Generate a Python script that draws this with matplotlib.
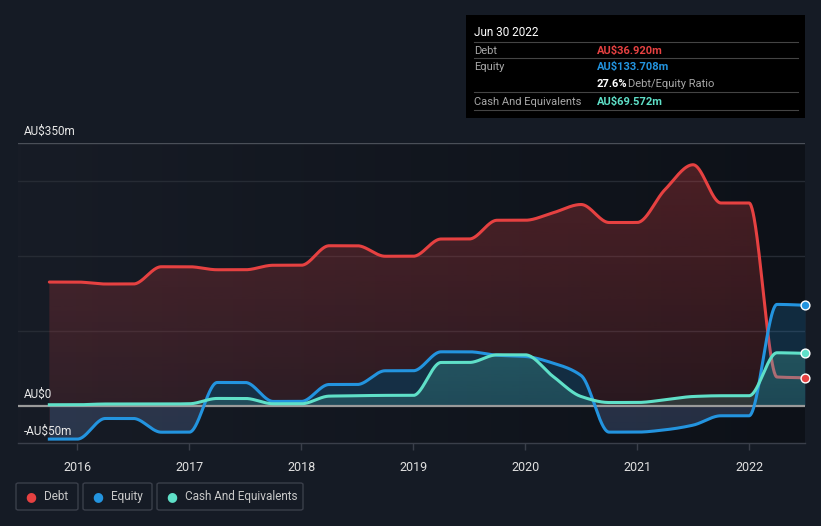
import numpy as np
import matplotlib
matplotlib.use("Agg")
import matplotlib.pyplot as plt
from matplotlib.patches import FancyBboxPatch, Rectangle
from matplotlib.colors import LinearSegmentedColormap, to_rgb

plt.rcParams['font.family'] = ['Roboto', 'DejaVu Sans']

# quarterly data, Sep 2015 .. Jun 2022 (AU$ m)
quarters = [2015.75 + 0.25 * i for i in range(28)]
debt = [164.6, 164.6, 162, 162, 185, 185, 181, 181, 187, 187, 213, 213, 199, 199,
        222, 222, 247, 247, 257, 268, 244, 244, 288, 321, 270, 270, 38, 36.92]
equity = [-44.8, -44.8, -17.3, -17.3, -35.6, -35.6, 30.7, 30.7, 5.4, 5.4, 28, 28, 46.3, 46.3,
          71.6, 71.6, 67, 65.4, 56.5, 40, -35.5, -35.5, -32.4, -26.2, -13.7, -13.7, 134.8, 133.708]
cash = [1, 1, 2, 2, 2, 2.3, 9.4, 9.4, 2.3, 2.3, 12.5, 13, 13.5, 13.4,
        57.4, 57.4, 67.6, 67.6, 38.7, 12, 4, 4, 7.6, 12, 13, 13, 70.3, 69.572]
years = [2016, 2017, 2018, 2019, 2020, 2021, 2022]

DEBT_C = "#e64141"
EQ_C = "#2394df"
CASH_C = "#5fe0c8"
BG = "#151b25"


def pchip(x, y, xs):
    x = np.asarray(x, float); y = np.asarray(y, float)
    h = np.diff(x); d = np.diff(y) / h
    m = np.zeros_like(y)
    for k in range(1, len(y) - 1):
        if d[k - 1] * d[k] > 0:
            w1 = 2 * h[k] + h[k - 1]; w2 = h[k] + 2 * h[k - 1]
            m[k] = (w1 + w2) / (w1 / d[k - 1] + w2 / d[k])
    m[0] = d[0]; m[-1] = d[-1]
    idx = np.clip(np.searchsorted(x, xs) - 1, 0, len(x) - 2)
    t = (xs - x[idx]) / h[idx]
    h00 = 2 * t**3 - 3 * t**2 + 1; h10 = t**3 - 2 * t**2 + t
    h01 = -2 * t**3 + 3 * t**2; h11 = t**3 - t**2
    return h00 * y[idx] + h10 * h[idx] * m[idx] + h01 * y[idx + 1] + h11 * h[idx] * m[idx + 1]


xs = np.linspace(quarters[0], quarters[-1], 1500)
ds = pchip(quarters, debt, xs)
es = pchip(quarters, equity, xs)
cs = pchip(quarters, cash, xs)

fig = plt.figure(figsize=(8.21, 5.26), dpi=100, facecolor=BG)
ax = fig.add_axes([18 / 821, 83 / 526, 787 / 821, 300 / 526])
ax.set_facecolor(BG)
XL = (2015.47, 2022.5)
YL = (-50, 350)
ax.set_xlim(XL); ax.set_ylim(YL)

# background horizontal gradient
bgcm = LinearSegmentedColormap.from_list("bg", ["#171c26", "#0d1118"])
ax.imshow(np.linspace(0, 1, 256).reshape(1, -1), cmap=bgcm, aspect="auto",
          extent=[XL[0], XL[1], YL[0], YL[1]], zorder=0)


def grad_fill(poly, color, a_top, a_bot, z):
    r, g, b = to_rgb(color)
    arr = np.zeros((256, 1, 4))
    arr[:, 0, 0] = r; arr[:, 0, 1] = g; arr[:, 0, 2] = b
    arr[:, 0, 3] = np.linspace(a_top, a_bot, 256)
    im = ax.imshow(arr, aspect="auto", extent=[XL[0], XL[1], YL[0], YL[1]],
                   origin="upper", zorder=z)
    poly.set_visible(False)
    path = poly.get_paths()[0]
    im.set_clip_path(path, transform=ax.transData)


# gridlines
for gy in [100, 200, 300]:
    ax.axhline(gy, color="#262b34", lw=1, zorder=1)
ax.axhline(350, color="#4a4f58", lw=1, zorder=1)

# debt area (down to the equity line)
p = ax.fill_between(xs, ds, np.minimum(es, ds), where=ds >= es, interpolate=True, lw=0)
grad_fill(p, DEBT_C, 0.30, 0.10, 2)
ax.plot(xs, ds, color=DEBT_C, lw=2.2, zorder=3, solid_capstyle="round")

# equity area
ax.fill_between(xs, es, 0, color=EQ_C, alpha=0.2, lw=0, zorder=4)
pc = ax.fill_between(xs, cs, 0, lw=0)
grad_fill(pc, CASH_C, 0.45, 0.12, 5)

ax.axhline(0, color="#9a9a9a", lw=1.6, zorder=6)
ax.plot(xs, es, color=EQ_C, lw=2.2, zorder=7)
ax.plot(xs, cs, color=CASH_C, lw=2.2, zorder=8)

for vals, c in [(debt, DEBT_C), (equity, EQ_C), (cash, CASH_C)]:
    ax.scatter([quarters[-1]], [vals[-1]], s=40, color=c, edgecolor="white",
               linewidth=1, zorder=10, clip_on=False)

for s in ["top", "right", "left"]:
    ax.spines[s].set_visible(False)
ax.spines["bottom"].set_color("#3a3f4a")
ax.spines["bottom"].set_linewidth(1)
ax.set_yticks([])
ax.set_xticks(years)
ax.set_xticklabels([str(y) for y in years])
ax.tick_params(axis="x", colors="#3a3f4a", length=5, width=1, labelcolor="#e0e0e0",
               labelsize=9, pad=8)

# y labels
for val, lab in [(350, "AU\\$350m"), (0, "AU\\$0"), (-50, "-AU\\$50m")]:
    ax.text((24 - 18) / 787, (val + 50) / 400 + 0.017, lab, transform=ax.transAxes,
            color="#e8e8e8", fontsize=8.5, va="bottom", ha="left", zorder=11)


# tooltip box
def fx(px):
    return px / 821


def fy(py):
    return 1 - py / 526


fig.patches.append(Rectangle((fx(466), fy(118)), fx(805) - fx(466), fy(15) - fy(118),
                             transform=fig.transFigure, facecolor="#000000", edgecolor="none"))
fig.text(fx(474), fy(32), "Jun 30 2022", color="white", fontsize=8.5, va="center")
for ly in [41.5, 58.3, 92.3, 110]:
    fig.lines.append(plt.Line2D([fx(474), fx(798)], [fy(ly), fy(ly)],
                                transform=fig.transFigure, color="#444444", lw=0.8))
rows = [(50.5, "Debt", "AU\\$36.920m", DEBT_C),
        (67.3, "Equity", "AU\\$133.708m", EQ_C),
        (101.5, "Cash And Equivalents", "AU\\$69.572m", CASH_C)]
for ry, lab, val, c in rows:
    fig.text(fx(474), fy(ry), lab, color="#a8a8a8", fontsize=8, va="center")
    fig.text(fx(597), fy(ry), val, color=c, fontsize=8, va="center", fontweight="bold")
fig.text(fx(597), fy(84), "27.6%", color="white", fontsize=8, va="center", fontweight="bold")
fig.text(fx(628), fy(84), "Debt/Equity Ratio", color="#a8a8a8", fontsize=8, va="center")

# legend
legend = [("Debt", DEBT_C, 16, 78), ("Equity", EQ_C, 83, 152),
          ("Cash And Equivalents", CASH_C, 157, 303)]
for lab, c, x0, x1 in legend:
    fig.patches.append(FancyBboxPatch((fx(x0), fy(510)), fx(x1) - fx(x0), fy(483) - fy(510),
                                      boxstyle="round,pad=0,rounding_size=0.003",
                                      transform=fig.transFigure, facecolor="none",
                                      edgecolor="#3a3f4a", lw=1))
    fig.text(fx(x0 + 15), fy(496.5), "●", color=c, fontsize=9, va="center", ha="center",
             family="DejaVu Sans")
    fig.text(fx(x0 + 28), fy(496.5), lab, color="#c8c8c8", fontsize=8.5, va="center")

fig.savefig("out.png", dpi=100, facecolor=BG)
